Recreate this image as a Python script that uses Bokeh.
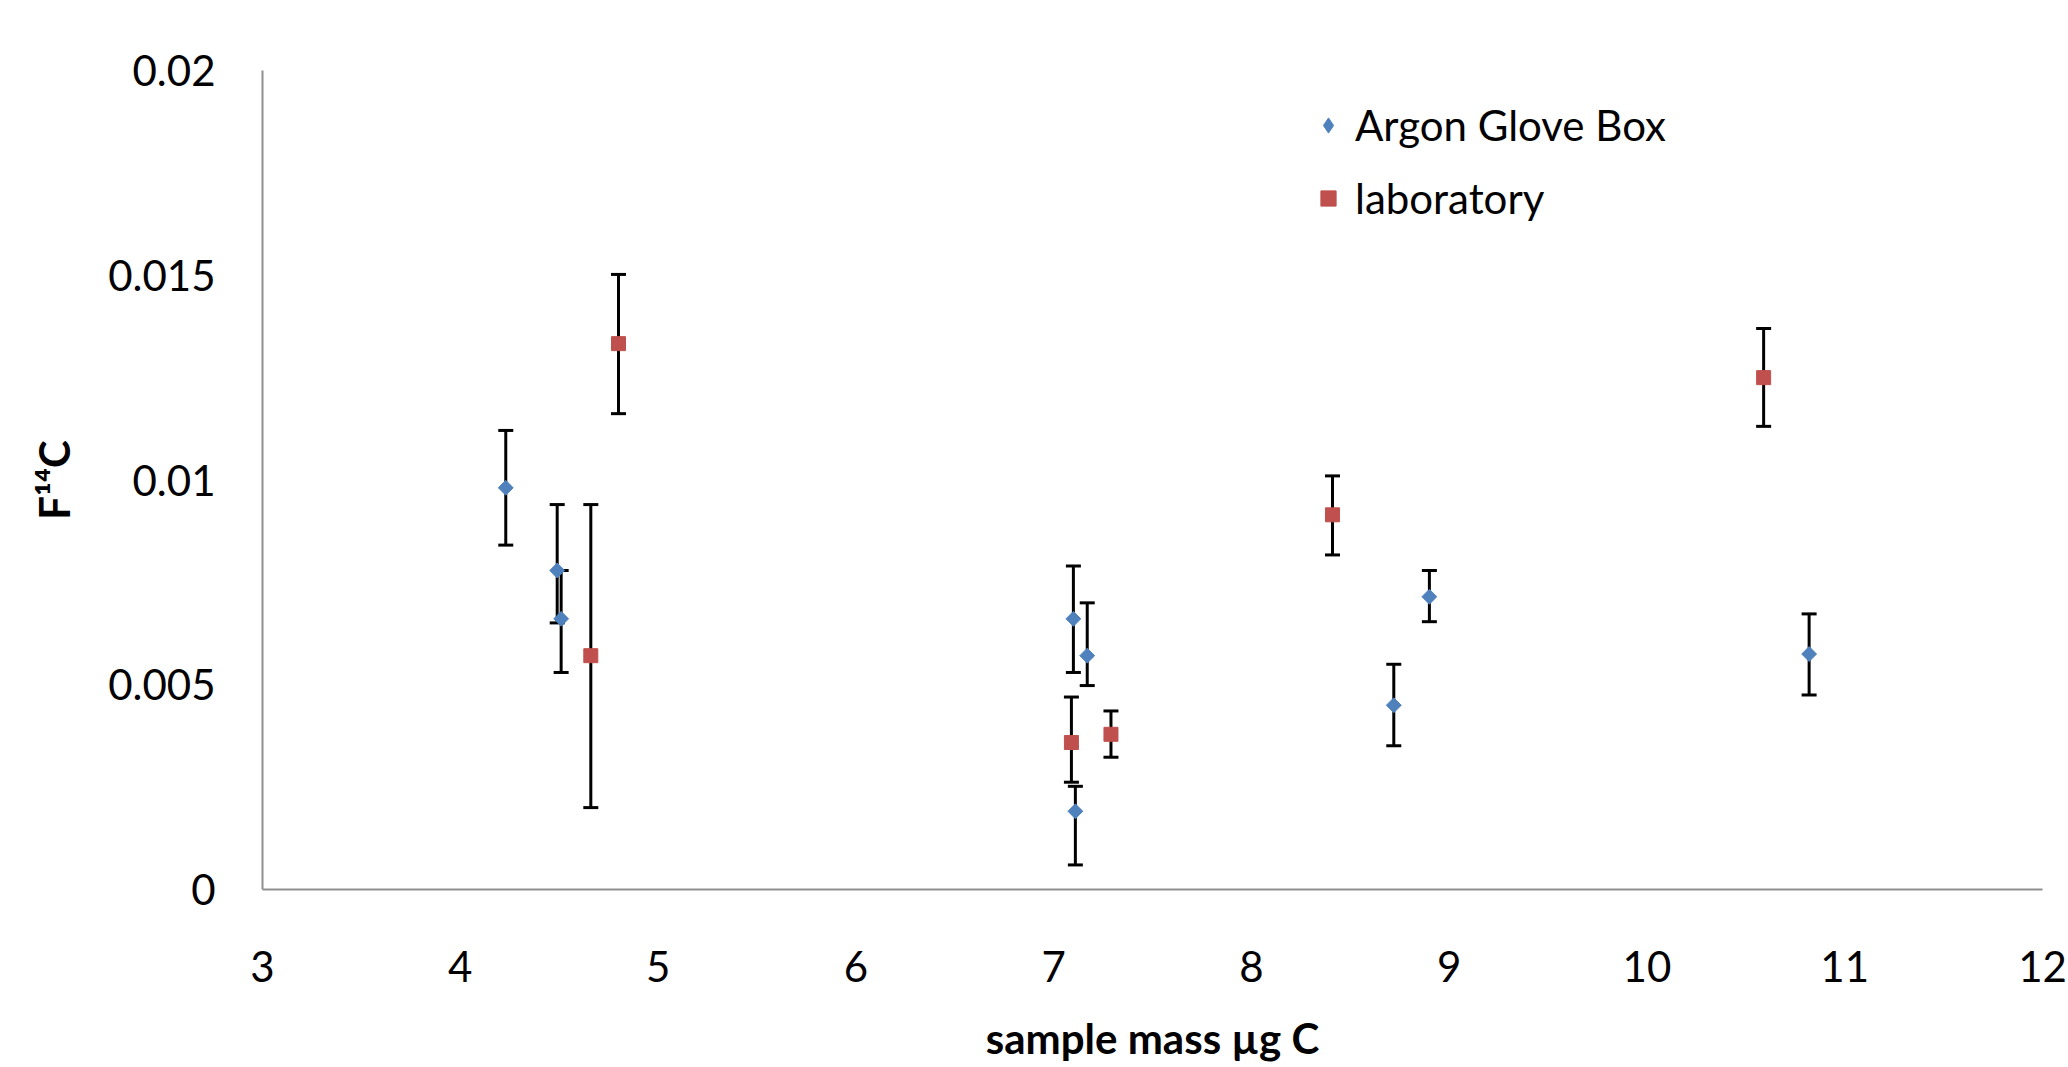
import math
from bokeh.plotting import figure
from bokeh.models import (ColumnDataSource, Whisker, TeeHead, Legend, LegendItem,
                          FixedTicker, Label)
from bokeh.embed import file_html
from bokeh.resources import INLINE

# ---------------- data ----------------
argon_mass  = [4.23, 4.49, 4.51, 7.10, 7.17, 7.11, 8.72, 8.90, 10.82]
argon_f14c  = [0.00981, 0.00779, 0.00661, 0.00661, 0.00571, 0.00191, 0.00450, 0.00715, 0.00575]
argon_upper = [0.01121, 0.00940, 0.00779, 0.00790, 0.00700, 0.00252, 0.00550, 0.00779, 0.00673]
argon_lower = [0.00841, 0.00651, 0.00530, 0.00530, 0.00498, 0.00060, 0.00351, 0.00654, 0.00475]

lab_mass  = [4.80, 4.66, 7.09, 7.29, 8.41, 10.59]
lab_f14c  = [0.01333, 0.00571, 0.00359, 0.00379, 0.00915, 0.01250]
lab_upper = [0.01502, 0.00940, 0.00470, 0.00436, 0.01010, 0.01370]
lab_lower = [0.01162, 0.00200, 0.00262, 0.00323, 0.00817, 0.01131]

series_names = ["Argon Glove Box", "laboratory"]
x_ticks = [3, 4, 5, 6, 7, 8, 9, 10, 11, 12]
y_ticks = [0, 0.005, 0.01, 0.015, 0.02]
y_tick_labels = ["0", "0.005", "0.01", "0.015", "0.02"]
x_title = "sample mass \u00b5g C"
y_title = "F\u00b9\u2074C"

# ---------------- styling ----------------
FONT = "Lato"
FS = "42px"
BLUE = "#4F81BD"
RED = "#C0504D"
AXIS_GREY = "#8f8f8f"

X0, X1 = 3, 12
Y0, Y1 = 0, 0.02
# pixel geometry of the axes box inside the page
PL, PR, PT, PB = 262, 26, 70, 178   # room left/right/top/bottom of the axes box
AW, AH = 1780, 819                  # axes box size
W, H = PL + AW + PR, PT + AH + PB
sx = (X1 - X0) / AW
sy = (Y1 - Y0) / AH

# the plotting frame spans the whole canvas, so axis texts are never clipped;
# the axes themselves are pinned to x = 3 and y = 0 and bounded to the data box
p = figure(width=W, height=H,
           x_range=(X0 - PL * sx, X1 + PR * sx),
           y_range=(Y0 - PB * sy, Y1 + PT * sy),
           output_backend="svg", toolbar_location=None,
           min_border=0, min_border_left=0, min_border_right=0,
           min_border_top=0, min_border_bottom=0)

p.outline_line_color = None
p.xgrid.visible = False
p.ygrid.visible = False
p.background_fill_color = "white"
p.border_fill_color = "white"

p.xaxis.ticker = FixedTicker(ticks=x_ticks)
p.yaxis.ticker = FixedTicker(ticks=y_ticks)
p.yaxis.major_label_overrides = {t: l for t, l in zip(y_ticks, y_tick_labels)}
p.xaxis.bounds = (X0, X1)
p.yaxis.bounds = (Y0, Y1)
p.xaxis.fixed_location = Y0
p.yaxis.fixed_location = X0

for ax in (p.xaxis, p.yaxis):
    ax.axis_line_color = AXIS_GREY
    ax.axis_line_width = 2
    ax.major_tick_line_color = None
    ax.minor_tick_line_color = None
    ax.major_tick_out = 0
    ax.major_tick_in = 0
    ax.major_label_text_font = FONT
    ax.major_label_text_font_size = FS
    ax.major_label_text_color = "black"

p.xaxis.major_label_standoff = 61
p.yaxis.major_label_standoff = 47

# axis titles (placed relative to the axes box)
p.add_layout(Label(x=(X0 + X1) / 2, y=Y0 - 148 * sy, text=x_title,
                   text_align="center", text_baseline="alphabetic",
                   text_font=FONT, text_font_style="bold", text_font_size=FS,
                   text_color="black"))
p.add_layout(Label(x=X0 - 209 * sx, y=(Y0 + Y1) / 2, text=y_title, angle=math.pi / 2,
                   text_align="center", text_baseline="middle",
                   text_font=FONT, text_font_style="bold", text_font_size=FS,
                   text_color="black"))

# ---------------- error bars ----------------
src_a = ColumnDataSource(dict(x=argon_mass, y=argon_f14c, upper=argon_upper, lower=argon_lower))
src_l = ColumnDataSource(dict(x=lab_mass, y=lab_f14c, upper=lab_upper, lower=lab_lower))

for src in (src_a, src_l):
    w = Whisker(source=src, base="x", upper="upper", lower="lower", dimension="height",
                line_color="black", line_width=3,
                upper_head=TeeHead(size=15, line_width=3, line_color="black"),
                lower_head=TeeHead(size=15, line_width=3, line_color="black"),
                level="underlay")
    p.add_layout(w)

# ---------------- markers ----------------
# diamond used for the legend key (hidden beneath the rotated squares in the plot)
r_a_key = p.scatter("x", "y", source=src_a, marker="diamond", size=13,
                    fill_color=BLUE, line_color=BLUE)
r_a = p.scatter("x", "y", source=src_a, marker="square", angle=math.pi / 4, size=10.5,
                fill_color=BLUE, line_color=BLUE)
r_l = p.scatter("x", "y", source=src_l, marker="square", size=14,
                fill_color=RED, line_color=RED)

legend = Legend(items=[LegendItem(label=series_names[0], renderers=[r_a_key]),
                       LegendItem(label=series_names[1], renderers=[r_l])],
                location=(PL + 1047, PB + 665), orientation="vertical",
                padding=0, margin=0, spacing=21,
                glyph_width=38, glyph_height=52, label_height=52,
                label_standoff=8,
                label_text_font=FONT, label_text_font_size=FS,
                label_text_color="black",
                border_line_color=None, background_fill_alpha=0)
p.add_layout(legend)

open("out.html", "w").write(file_html(p, INLINE))
